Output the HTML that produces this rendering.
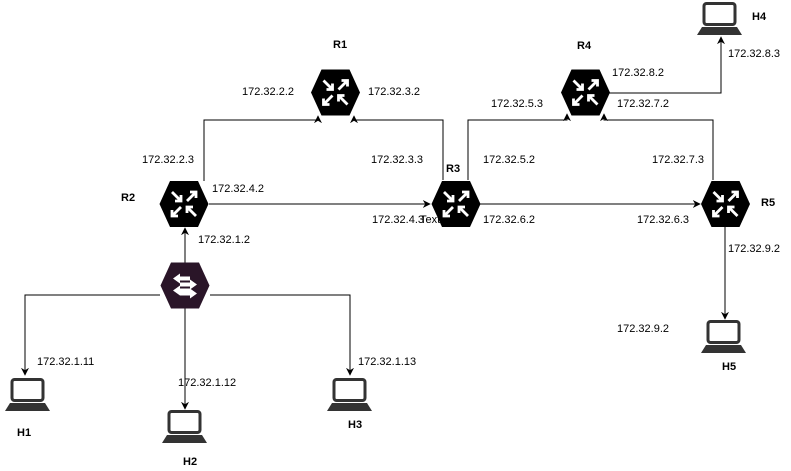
<!DOCTYPE html>
<html><head><meta charset="utf-8"><style>
html,body{margin:0;padding:0;background:#fff;}
svg{display:block;font-family:"Liberation Sans",sans-serif;}
text{font-size:11px;fill:#000;}
.b{font-weight:bold;font-size:11px;}
</style></head><body>
<svg width="791" height="471" viewBox="0 0 791 471" xmlns="http://www.w3.org/2000/svg">
<defs>
<marker id="a" viewBox="0 0 10 10" refX="9" refY="5" markerWidth="8" markerHeight="8" orient="auto"><path d="M0,0 L10,5 L0,10 L3,5 z" fill="#000"/></marker>
<g id="rt">
<polygon points="-24.5,0 -14,-23 14,-23 24.5,0 14,23 -14,23" fill="#000"/>
<g stroke="#fff" stroke-width="2.8" fill="none">
<path d="M-12,-12 L-3,-3 M-3,-9 L-3,-3 L-9,-3"/>
<path d="M3,-3 L12,-12 M6,-12 L12,-12 L12,-6"/>
<path d="M-3,3 L-12,12 M-12,6 L-12,12 L-6,12"/>
<path d="M12,12 L3,3 M3,9 L3,3 L9,3"/>
</g>
</g>
<g id="lp">
<rect x="7" y="1.5" width="31" height="21" rx="2.5" fill="#fff" stroke="#333" stroke-width="3"/>
<polygon points="5,25 40,25 45,33 0,33" fill="#333"/>
</g>
</defs>
<g stroke="#000" stroke-width="1" fill="none">
<polyline points="204,181 204,120 318,120 318,116" marker-end="url(#a)"/>
<polyline points="443,180 443,120 354,120 354,116" marker-end="url(#a)"/>
<polyline points="468,180 468,120 567,120 567,114" marker-end="url(#a)"/>
<polyline points="713,180 713,120 604,120 604,114" marker-end="url(#a)"/>
<polyline points="608,93 721,93 721,37" marker-end="url(#a)"/>
<line x1="209" y1="204" x2="430" y2="204" marker-end="url(#a)"/>
<line x1="480" y1="204" x2="700" y2="204" marker-end="url(#a)"/>
<line x1="725" y1="227" x2="725" y2="319" marker-end="url(#a)"/>
<line x1="185" y1="263" x2="185" y2="228" marker-end="url(#a)"/>
<polyline points="160,295 25,295 25,375" marker-end="url(#a)"/>
<polyline points="210,295 350,295 350,375" marker-end="url(#a)"/>
<line x1="185" y1="308" x2="185" y2="409" marker-end="url(#a)"/>
</g>
<use href="#rt" transform="translate(335.5,92.5)"/>
<use href="#rt" transform="translate(184,204)"/>
<use href="#rt" transform="translate(456,204)"/>
<use href="#rt" transform="translate(585.5,92.5)"/>
<use href="#rt" transform="translate(725.5,204)"/>
<g transform="translate(185,285.5)">
<polygon points="-24.5,0 -14,-23 14,-23 24.5,0 14,23 -14,23" fill="#2a1528"/>
<g fill="#fff">
<polygon points="-12,-7 -5,-12 -5,-9 5,-9 5,-5 -5,-5 -5,-2"/>
<polygon points="12,-2 5,-7 5,-4 -5,-4 -5,0 5,0 5,3" transform="translate(0,1)"/>
<polygon points="-12,4 -5,-1 -5,2 5,2 5,6 -5,6 -5,9" transform="translate(0,1)"/>
<polygon points="12,9 5,4 5,7 -5,7 -5,11 5,11 5,14" transform="translate(0,-1)"/>
</g>
</g>
<use href="#lp" transform="translate(5,378)"/>
<use href="#lp" transform="translate(162,410)"/>
<use href="#lp" transform="translate(327,378)"/>
<use href="#lp" transform="translate(697,2)"/>
<use href="#lp" transform="translate(701,320)"/>
<text class="b" x="333" y="48">R1</text>
<text class="b" x="121" y="201">R2</text>
<text class="b" x="446" y="172">R3</text>
<text class="b" x="577" y="49">R4</text>
<text class="b" x="761" y="206">R5</text>
<text class="b" x="752" y="20">H4</text>
<text class="b" x="722" y="370">H5</text>
<text class="b" x="17" y="436">H1</text>
<text class="b" x="183" y="465">H2</text>
<text class="b" x="348" y="428">H3</text>
<text x="242" y="95">172.32.2.2</text>
<text x="368" y="95">172.32.3.2</text>
<text x="142" y="163">172.32.2.3</text>
<text x="371" y="163">172.32.3.3</text>
<text x="212" y="192">172.32.4.2</text>
<text x="372" y="223">172.32.4.3</text>
<text x="420" y="223">Text</text>
<text x="198" y="243">172.32.1.2</text>
<text x="483" y="163">172.32.5.2</text>
<text x="491" y="107">172.32.5.3</text>
<text x="483" y="223">172.32.6.2</text>
<text x="637" y="223">172.32.6.3</text>
<text x="612" y="76">172.32.8.2</text>
<text x="617" y="107">172.32.7.2</text>
<text x="652" y="163">172.32.7.3</text>
<text x="728" y="57">172.32.8.3</text>
<text x="728" y="252">172.32.9.2</text>
<text x="617" y="332">172.32.9.2</text>
<text x="37" y="365">172.32.1.11</text>
<text x="178" y="386">172.32.1.12</text>
<text x="358" y="365">172.32.1.13</text>
</svg>
</body></html>
